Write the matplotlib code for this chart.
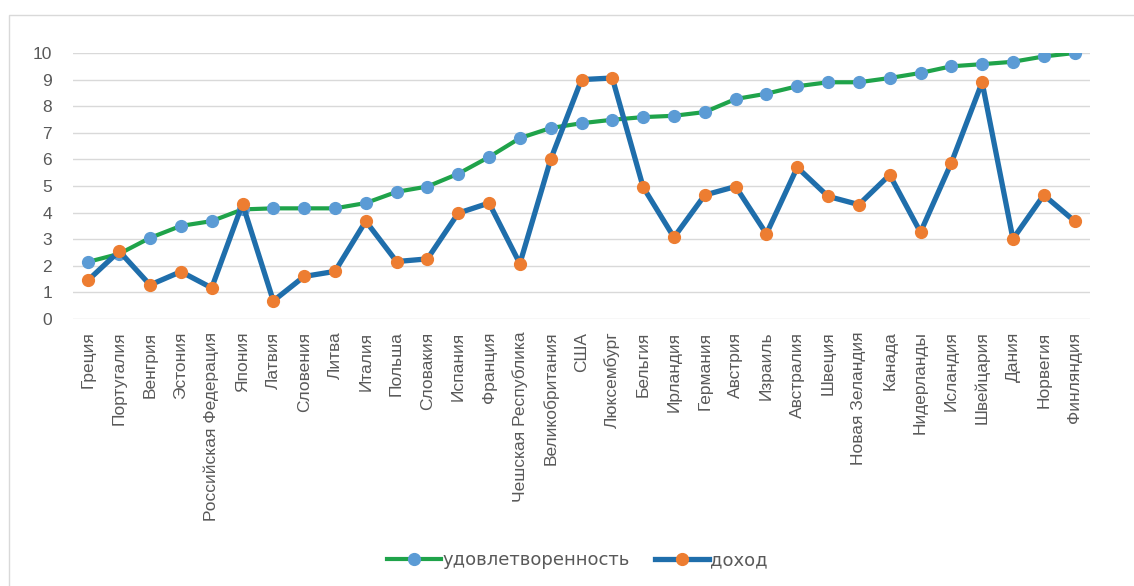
import matplotlib
matplotlib.use("Agg")
import matplotlib.pyplot as plt
from matplotlib.lines import Line2D
from matplotlib.patches import Rectangle

countries = ["Греция", "Португалия", "Венгрия", "Эстония", "Российская Федерация",
             "Япония", "Латвия", "Словения", "Литва", "Италия", "Польша", "Словакия",
             "Испания", "Франция", "Чешская Республика", "Великобритания", "США",
             "Люксембург", "Бельгия", "Ирландия", "Германия", "Австрия", "Израиль",
             "Австралия", "Швеция", "Новая Зеландия", "Канада", "Нидерланды",
             "Исландия", "Швейцария", "Дания", "Норвегия", "Финляндия"]

satisfaction = [2.15, 2.45, 3.05, 3.5, 3.68, 4.12, 4.16, 4.16, 4.16, 4.36, 4.78, 4.98,
                5.46, 6.09, 6.8, 7.18, 7.36, 7.49, 7.59, 7.64, 7.78, 8.27, 8.47, 8.75,
                8.9, 8.9, 9.06, 9.25, 9.5, 9.58, 9.67, 9.87, 10.0]

income = [1.47, 2.55, 1.28, 1.78, 1.17, 4.33, 0.68, 1.6, 1.79, 3.68, 2.16, 2.26,
          3.98, 4.36, 2.08, 6.0, 9.0, 9.06, 4.96, 3.07, 4.66, 4.98, 3.2, 5.7,
          4.61, 4.3, 5.42, 3.26, 5.87, 8.9, 3.01, 4.66, 3.68]

series_names = ["удовлетворенность", "доход"]
yticks = list(range(0, 11))

W, H = 1134, 586
fig = plt.figure(figsize=(W / 100, H / 100), dpi=100)
plt.rcParams['font.family'] = ['Liberation Sans', 'DejaVu Sans']

# outer chart frame
fig.patches.append(Rectangle((9 / W, -0.01), 1.2, 1 - 15 / H + 0.01, transform=fig.transFigure,
                             fill=False, edgecolor="#d9d9d9", linewidth=1.0))

left, right, top, bottom = 73 / W, 1090 / W, 53 / H, 319 / H
ax = fig.add_axes([left, 1 - bottom, right - left, bottom - top])

x = list(range(len(countries)))
green = "#1fa34a"
blue = "#1f6eab"
ax.plot(x, satisfaction, color=green, linewidth=3.0, marker="o", markersize=8.5,
        markerfacecolor="#5b9bd5", markeredgecolor="#5b9bd5", zorder=3, solid_capstyle="round")
ax.plot(x, income, color=blue, linewidth=3.8, marker="o", markersize=8.5,
        markerfacecolor="#ed7d31", markeredgecolor="#ed7d31", zorder=4, solid_capstyle="round")

ax.set_xlim(-0.5, len(countries) - 0.5)
ax.set_ylim(0, 10)
ax.set_yticks(yticks)
ax.set_yticklabels([str(t) for t in yticks])
ax.set_xticks(x)
ax.set_xticklabels(countries, rotation=90)
ax.grid(axis="y", color="#d9d9d9", linewidth=1.0)
ax.set_axisbelow(True)
for s in ax.spines.values():
    s.set_visible(False)
ax.tick_params(axis="both", length=0, colors="#595959", labelsize=12.5)
ax.tick_params(axis="y", pad=15)
ax.tick_params(axis="x", pad=9)

handles = [
    Line2D([0], [0], color=green, linewidth=3.0, marker="o", markersize=8.5,
           markerfacecolor="#5b9bd5", markeredgecolor="#5b9bd5"),
    Line2D([0], [0], color=blue, linewidth=3.8, marker="o", markersize=8.5,
           markerfacecolor="#ed7d31", markeredgecolor="#ed7d31"),
]
leg = fig.legend(handles, series_names, loc="center", bbox_to_anchor=(0.509, 1 - 560 / H),
                 ncol=2, frameon=False, prop={"family": ["DejaVu Sans"], "size": 13},
                 labelcolor="#595959", handlelength=3.0, handletextpad=0.05,
                 columnspacing=1.4)

fig.savefig("out.png", dpi=100)
